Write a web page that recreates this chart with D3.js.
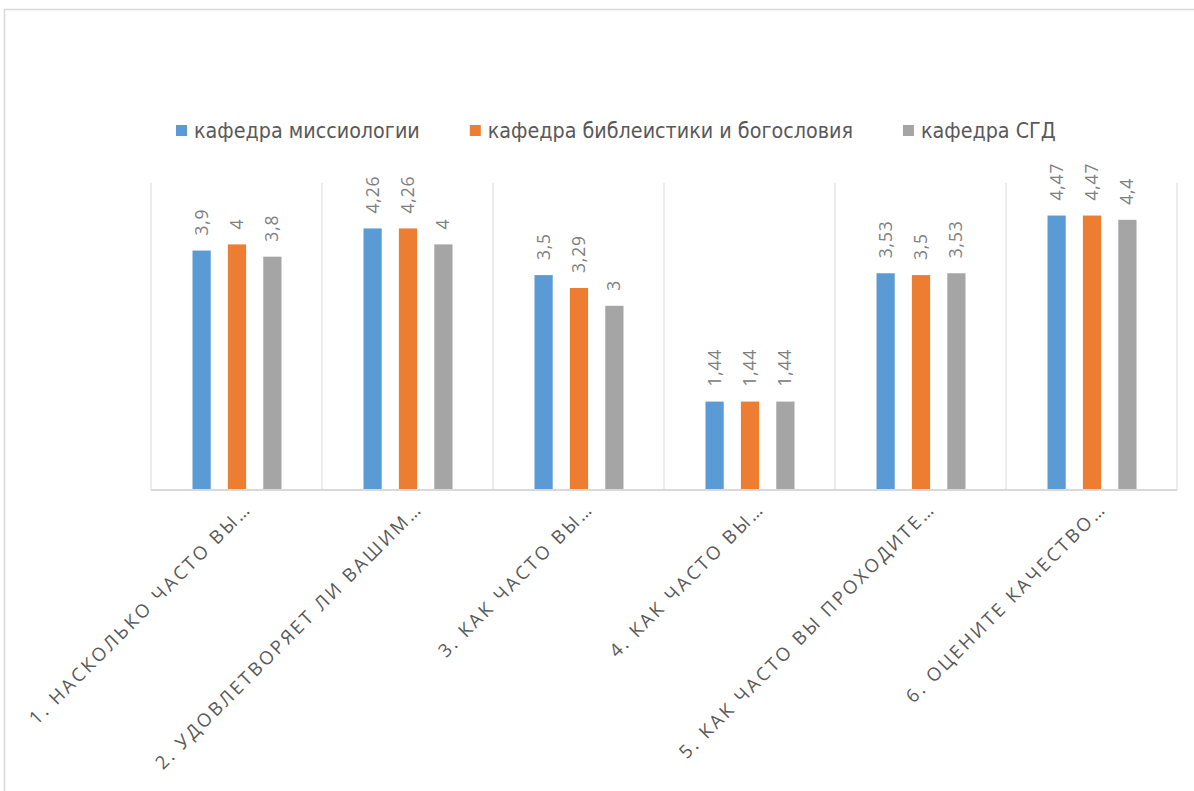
<!DOCTYPE html>
<html lang="ru">
<head>
  <meta charset="UTF-8" />
  <title>Кафедры</title>
  <script src="https://d3js.org/d3.v7.min.js"></script>
  <style>
    body { margin: 0; background: #fff; }
    svg { display: block; }
    .legend text { font-family: "Liberation Sans Narrow", "DejaVu Sans Condensed", "Noto Sans", sans-serif; font-size: 21.3px; fill: #595959; }
    .val { font-family: "Open Sans", "Noto Sans", sans-serif; font-size: 17.5px; fill: #808080; }
    .cat { font-family: "Open Sans", "Noto Sans", sans-serif; font-size: 18.5px; fill: #595959; }
  </style>
</head>
<body>
  <div id="chart"></div>
  <script>
    // categories (truncated as in the original chart)
    var categories = [
      '1. НАСКОЛЬКО ЧАСТО ВЫ…',
      '2. УДОВЛЕТВОРЯЕТ ЛИ ВАШИМ…',
      '3. КАК ЧАСТО ВЫ…',
      '4. КАК ЧАСТО ВЫ…',
      '5. КАК ЧАСТО ВЫ ПРОХОДИТЕ…',
      '6. ОЦЕНИТЕ КАЧЕСТВО…'
    ];
    var seriesNames = ['кафедра миссиологии', 'кафедра библеистики и богословия', 'кафедра СГД'];
    var missiology = [3.9, 4.26, 3.5, 1.44, 3.53, 4.47];
    var biblical = [4, 4.26, 3.29, 1.44, 3.5, 4.47];
    var sgd = [3.8, 4, 3, 1.44, 3.53, 4.4];
    var colors = ['#5b9bd5', '#ed7d31', '#a5a5a5'];

    var W = 1194, H = 791;
    var plotLeft = 151, plotRight = 1177, plotTop = 183, plotBottom = 490;

    var svg = d3.select('#chart').append('svg')
      .attr('width', W)
      .attr('height', H);

    // chart border (runs off the picture on the right and bottom)
    svg.append('rect')
      .attr('x', 4.5).attr('y', 9.5)
      .attr('width', W + 20).attr('height', H + 20)
      .attr('fill', 'none')
      .attr('stroke', '#d9d9d9')
      .attr('stroke-width', 1.5);

    var series = [missiology, biblical, sgd];

    var x0 = d3.scaleBand().domain(categories).range([plotLeft, plotRight]).padding(0);
    var half = x0.bandwidth() / 2;
    var x1 = d3.scaleBand().domain([0, 1, 2]).range([half - 44, half + 45]).paddingInner(0.485).paddingOuter(0);
    var y = d3.scaleLinear().domain([0, 5]).range([plotBottom, plotTop]);

    // vertical category separators
    svg.append('g').selectAll('line')
      .data(d3.range(categories.length + 1))
      .join('line')
      .attr('x1', i => plotLeft + i * x0.bandwidth())
      .attr('x2', i => plotLeft + i * x0.bandwidth())
      .attr('y1', y(5))
      .attr('y2', y(0))
      .attr('stroke', '#d9d9d9')
      .attr('stroke-width', 1);

    // bars
    var groups = svg.append('g').selectAll('g')
      .data(categories)
      .join('g')
      .attr('transform', d => 'translate(' + x0(d) + ',0)');

    groups.selectAll('rect')
      .data((d, ci) => series.map((s, si) => ({ si: si, v: s[ci] })))
      .join('rect')
      .attr('x', d => x1(d.si))
      .attr('y', d => y(d.v))
      .attr('width', x1.bandwidth())
      .attr('height', d => y(0) - y(d.v))
      .attr('fill', d => colors[d.si]);

    groups.selectAll('text')
      .data((d, ci) => series.map((s, si) => ({ si: si, v: s[ci] })))
      .join('text')
      .attr('class', 'val')
      .attr('letter-spacing', 0.8)
      .attr('transform', d => 'translate(' + (x1(d.si) + x1.bandwidth() / 2 + 6) + ',' + (y(d.v) - 15) + ') rotate(-90)')
      .text(d => String(d.v).replace('.', ','));

    // baseline
    svg.append('line')
      .attr('x1', plotLeft).attr('x2', plotRight)
      .attr('y1', y(0)).attr('y2', y(0))
      .attr('stroke', '#d9d9d9')
      .attr('stroke-width', 2);

    // category labels, rotated
    svg.append('g').selectAll('text')
      .data(categories)
      .join('text')
      .attr('class', 'cat')
      .attr('letter-spacing', 2.7)
      .attr('text-anchor', 'end')
      .attr('transform', d => 'translate(' + (x0(d) + half + 16) + ',' + (y(0) + 20) + ') rotate(-45)')
      .text(d => d);

    // legend
    var legend = svg.append('g').attr('class', 'legend');
    var lx = 176;
    seriesNames.forEach((name, i) => {
      legend.append('rect')
        .attr('x', lx).attr('y', 125)
        .attr('width', 11).attr('height', 11)
        .attr('fill', colors[i]);
      var t = legend.append('text')
        .attr('x', lx + 18).attr('y', 138)
        .text(name);
      lx += 18 + t.node().getComputedTextLength() + 50;
    });
  </script>
</body>
</html>
